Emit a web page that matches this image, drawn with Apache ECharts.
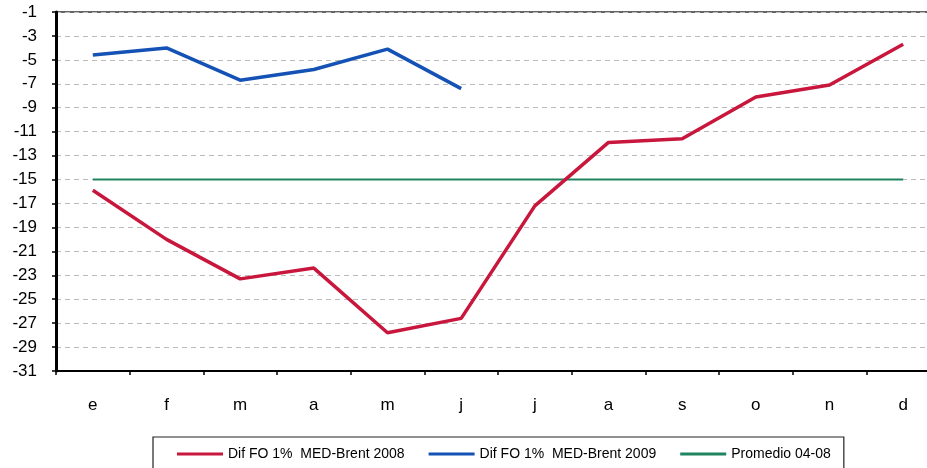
<!DOCTYPE html>
<html>
<head>
<meta charset="utf-8">
<script src="https://cdn.jsdelivr.net/npm/echarts@6/dist/echarts.min.js"></script>
<style>
  html, body { margin: 0; padding: 0; background: #fff; }
  #chart { width: 927px; height: 468px; }
</style>
</head>
<body>
<div id="chart"></div>
<script>
// meses
var months = ['e', 'f', 'm', 'a', 'm', 'j', 'j', 'a', 's', 'o', 'n', 'd'];
// Dif FO 1% MED-Brent 2008
var dif2008 = [-15.9, -20.0, -23.3, -22.4, -27.8, -26.6, -17.2, -11.9, -11.6, -8.1, -7.1, -3.7];
// Dif FO 1% MED-Brent 2009 (hasta junio)
var dif2009 = [-4.6, -4.0, -6.7, -5.8, -4.1, -7.4];
// Promedio 04-08
var promedio = [-15, -15, -15, -15, -15, -15, -15, -15, -15, -15, -15, -15];
var yMin = -31, yMax = -1, yStep = 2;

var chart = echarts.init(document.getElementById('chart'));
chart.setOption({
  animation: false,
  textStyle: { fontFamily: 'Liberation Sans, Arial, sans-serif', color: '#000' },
  grid: {
    left: 56, top: 12, width: 884, bottom: 97,
    outerBoundsMode: 'none', containLabel: false,
    show: true, borderColor: '#333', borderWidth: 1.5
  },
  legend: {
    left: 153, top: 437,
    padding: [10, 13, 30, 24],
    itemGap: 24, itemWidth: 46, itemHeight: 3,
    icon: 'rect',
    borderColor: '#222', borderWidth: 1.2,
    textStyle: { fontSize: 14, color: '#000', fontFamily: 'Liberation Sans, Arial, sans-serif' },
    data: ['Dif FO 1%  MED-Brent 2008', 'Dif FO 1%  MED-Brent 2009', 'Promedio 04-08']
  },
  xAxis: {
    type: 'category',
    data: months,
    boundaryGap: true,
    axisLine: { lineStyle: { color: '#000', width: 2 } },
    axisTick: { show: true, length: 4, lineStyle: { color: '#000', width: 1.5 } },
    axisLabel: { fontSize: 17, color: '#000', margin: 26 },
    splitLine: { show: false }
  },
  yAxis: {
    type: 'value',
    min: yMin, max: yMax, interval: yStep,
    axisLine: { show: true, lineStyle: { color: '#000', width: 3 } },
    axisTick: { show: true, length: 4, lineStyle: { color: '#000', width: 1.5 } },
    axisLabel: { fontSize: 17, color: '#000', margin: 19 },
    splitLine: { show: true, lineStyle: { color: '#bbb', width: 1, type: [5, 4] } }
  },
  series: [
    {
      name: 'Dif FO 1%  MED-Brent 2008', type: 'line', data: dif2008,
      symbol: 'none', z: 3,
      itemStyle: { color: '#c8163c' },
      lineStyle: { color: '#c8163c', width: 3.5 }
    },
    {
      name: 'Dif FO 1%  MED-Brent 2009', type: 'line', data: dif2009,
      symbol: 'none', z: 3,
      itemStyle: { color: '#1552b5' },
      lineStyle: { color: '#1552b5', width: 3.5 }
    },
    {
      name: 'Promedio 04-08', type: 'line', data: promedio,
      symbol: 'none', z: 2,
      itemStyle: { color: '#1e8560' },
      lineStyle: { color: '#1e8560', width: 2 }
    }
  ]
});
</script>
</body>
</html>
